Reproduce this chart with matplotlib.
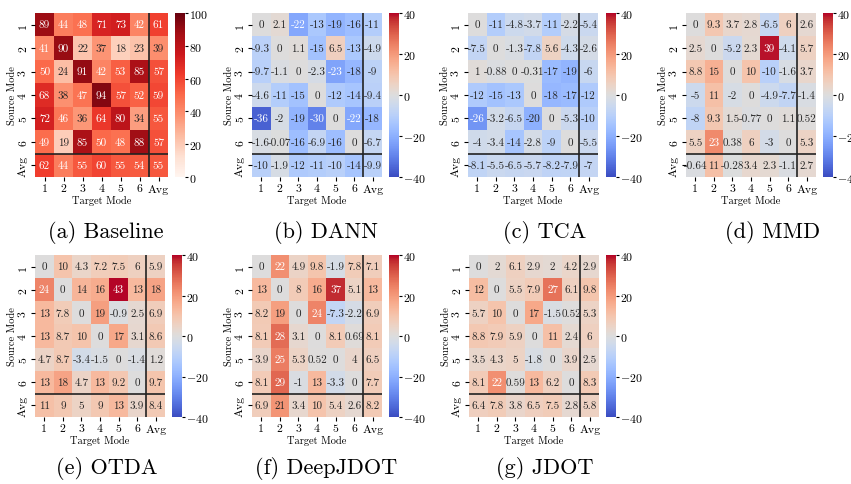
import numpy as np
import matplotlib
matplotlib.use("Agg")
import matplotlib.pyplot as plt
import seaborn as sns

plt.rcParams["font.family"] = ["cmr10", "DejaVu Serif"]
plt.rcParams["mathtext.fontset"] = "cm"
plt.rcParams["axes.formatter.use_mathtext"] = True

modes = ["1", "2", "3", "4", "5", "6", "Avg"]

baseline = [
    [89, 44, 48, 71, 73, 42, 61],
    [41, 90, 22, 37, 18, 23, 39],
    [50, 24, 91, 42, 53, 85, 57],
    [68, 38, 47, 94, 57, 52, 59],
    [72, 46, 36, 64, 80, 34, 55],
    [49, 19, 85, 50, 48, 88, 57],
    [62, 44, 55, 60, 55, 54, 55],
]

dann = [
    [0, 2.1, -22, -13, -19, -16, -11],
    [-9.3, 0, 1.1, -15, 6.5, -13, -4.9],
    [-9.7, -1.1, 0, -2.3, -23, -18, -9],
    [-4.6, -11, -15, 0, -12, -14, -9.4],
    [-36, -2, -19, -30, 0, -22, -18],
    [-1.6, -0.07, -16, -6.9, -16, 0, -6.7],
    [-10, -1.9, -12, -11, -10, -14, -9.9],
]

tca = [
    [0, -11, -4.8, -3.7, -11, -2.2, -5.4],
    [-7.5, 0, -1.3, -7.8, 5.6, -4.3, -2.6],
    [1, -0.88, 0, -0.31, -17, -19, -6],
    [-12, -15, -13, 0, -18, -17, -12],
    [-26, -3.2, -6.5, -20, 0, -5.3, -10],
    [-4, -3.4, -14, -2.8, -9, 0, -5.5],
    [-8.1, -5.5, -6.5, -5.7, -8.2, -7.9, -7],
]

mmd = [
    [0, 9.3, 3.7, 2.8, -6.5, 6, 2.6],
    [2.5, 0, -5.2, 2.3, 39, -4.1, 5.7],
    [8.8, 15, 0, 10, -10, -1.6, 3.7],
    [-5, 11, -2, 0, -4.9, -7.7, -1.4],
    [-8, 9.3, 1.5, -0.77, 0, 1.1, 0.52],
    [5.5, 23, 0.38, 6, -3, 0, 5.3],
    [-0.64, 11, -0.28, 3.4, 2.3, -1.1, 2.7],
]

otda = [
    [0, 10, 4.3, 7.2, 7.5, 6, 5.9],
    [24, 0, 14, 16, 43, 13, 18],
    [13, 7.8, 0, 19, -0.9, 2.5, 6.9],
    [13, 8.7, 10, 0, 17, 3.1, 8.6],
    [4.7, 8.7, -3.4, -1.5, 0, -1.4, 1.2],
    [13, 18, 4.7, 13, 9.2, 0, 9.7],
    [11, 9, 5, 9, 13, 3.9, 8.4],
]

deepjdot = [
    [0, 22, 4.9, 9.8, -1.9, 7.8, 7.1],
    [13, 0, 8, 16, 37, 5.1, 13],
    [8.2, 19, 0, 24, -7.3, -2.2, 6.9],
    [8.1, 28, 3.1, 0, 8.1, 0.69, 8.1],
    [3.9, 25, 5.3, 0.52, 0, 4, 6.5],
    [8.1, 29, -1, 13, -3.3, 0, 7.7],
    [6.9, 21, 3.4, 10, 5.4, 2.6, 8.2],
]

jdot = [
    [0, 2, 6.1, 2.9, 2, 4.2, 2.9],
    [12, 0, 5.5, 7.9, 27, 6.1, 9.8],
    [5.7, 10, 0, 17, -1.5, 0.52, 5.3],
    [8.8, 7.9, 5.9, 0, 11, 2.4, 6],
    [3.5, 4.3, 5, -1.8, 0, 3.9, 2.5],
    [8.1, 22, 0.59, 13, 6.2, 0, 8.3],
    [6.4, 7.8, 3.8, 6.5, 7.5, 2.8, 5.8],
]

panels = [
    ("(a) Baseline", baseline, "Reds", 0, 100),
    ("(b) DANN", dann, "coolwarm", -40, 40),
    ("(c) TCA", tca, "coolwarm", -40, 40),
    ("(d) MMD", mmd, "coolwarm", -40, 40),
    ("(e) OTDA", otda, "coolwarm", -40, 40),
    ("(f) DeepJDOT", deepjdot, "coolwarm", -40, 40),
    ("(g) JDOT", jdot, "coolwarm", -40, 40),
]

W, H = 851, 485
# pixel layout: heatmap left, top, width, height, colorbar left, caption x, caption y
layout = [
    (35, 14, 133, 164, 175, 106, 232),
    (252, 14, 130, 164, 389, 326, 232),
    (468, 14, 130, 164, 606, 545, 232),
    (686, 14, 130, 164, 823, 773, 232),
    (35, 256, 130, 162, 172, 107, 469),
    (252, 256, 130, 162, 389, 326, 469),
    (469, 256, 130, 162, 606, 545, 469),
]


def box(x, y, w, h):
    return [x / W, 1 - (y + h) / H, w / W, h / H]


fig = plt.figure(figsize=(W / 100, H / 100), dpi=100)

for (title, values, cmap, vmin, vmax), (x, y, w, h, cx, tx, ty) in zip(panels, layout):
    ax = fig.add_axes(box(x, y, w, h))
    cax = fig.add_axes(box(cx, y, 10, h))
    ticks = np.linspace(vmin, vmax, 6 if vmax == 100 else 5)
    sns.heatmap(np.array(values), ax=ax, cbar_ax=cax, cmap=cmap, vmin=vmin, vmax=vmax,
                annot=True, fmt=".2g", annot_kws={"size": 8},
                xticklabels=modes, yticklabels=modes,
                cbar_kws={"ticks": ticks})
    cax.set_yticklabels(["$%d$" % t for t in ticks])
    cax.tick_params(labelsize=8.5, length=2, pad=1)
    ax.axvline(6, color="#222222", lw=1.2)
    ax.axhline(6, color="#222222", lw=1.2)
    ax.tick_params(labelsize=8.5, length=3, pad=2)
    plt.setp(ax.get_yticklabels(), rotation=90, va="center")
    plt.setp(ax.get_xticklabels(), rotation=0)
    ax.set_xlabel("Target Mode", fontsize=7.5, labelpad=1)
    ax.set_ylabel("Source Mode", fontsize=7.5, labelpad=1)
    fig.text(tx / W, 1 - ty / H, title, fontsize=16, ha="center", va="center")

fig.savefig("out.png", dpi=100)
